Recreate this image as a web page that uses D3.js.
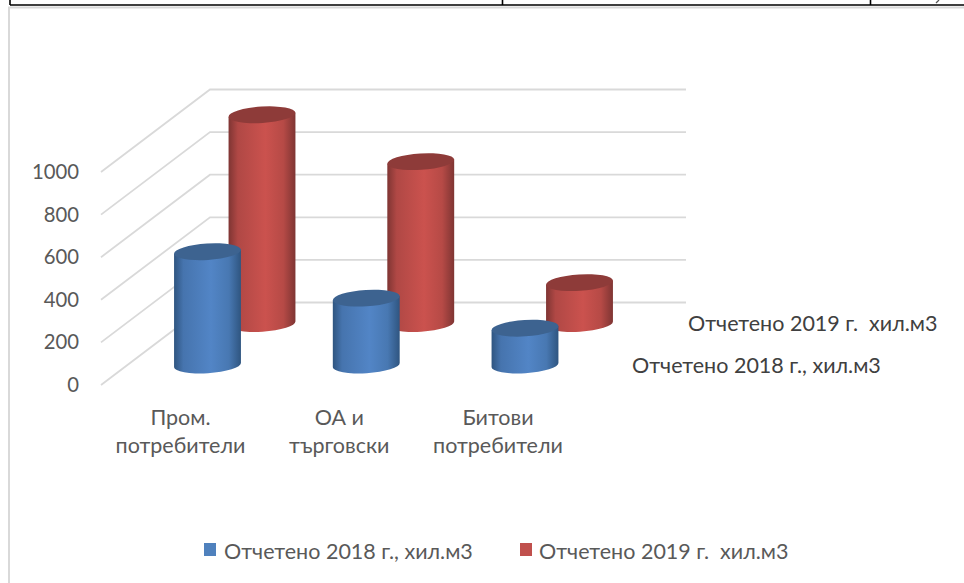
<!DOCTYPE html>
<html><head><meta charset="utf-8">
<script src="https://cdn.jsdelivr.net/npm/d3@7/dist/d3.min.js"></script>
<style>html,body{margin:0;padding:0;background:#fff;overflow:hidden}svg{display:block}text{font-family:Lato,"Open Sans",sans-serif}</style>
</head><body><svg id="c" width="964" height="583"></svg>
<script>
const categories = [["Пром.","потребители"],["ОА и","търговски"],["Битови","потребители"]];
const seriesNames = ["Отчетено 2018 г., хил.м3","Отчетено 2019 г.  хил.м3"];
const values2018 = [532, 314, 173];
const values2019 = [980, 760, 192];
const yTicks = [0,200,400,600,800,1000];
const seriesColors = [["#2f5580","#5285c6","#3b628f"],["#7f3533","#cb524e","#8d3a38"]];

const svg = d3.select("#c");
const y = d3.scaleLinear().domain([0,1000]).range([0,213]);
const xScale = d3.scalePoint().domain([0,1,2]).range([207.5,525]);
const floorFront = {x:101,y:385}, skew = {x:109,y:-82.5}, backRight = 686;
const seriesDepth = d3.scalePoint().domain([0,1]).range([0.242,0.745]);
const seriesX = d3.scalePoint().domain([0,1]).range([0,54.5]);
const FS = 21.5, FT = 20.3;

const defs = svg.append("defs");
seriesColors.forEach((c,i)=>{
  const g = defs.append("linearGradient").attr("id","side"+i);
  [[0,c[0]],[.14,d3.interpolateRgb(c[0],c[1])(.65)],[.55,c[1]],[.82,d3.interpolateRgb(c[0],c[1])(.72)],[1,c[0]]]
    .forEach(([o,col])=>g.append("stop").attr("offset",o).attr("stop-color",col));
});
svg.append("path").attr("d","M9 583V7.5H964").attr("fill","none").attr("stroke","#d9d9d9").attr("stroke-width",2);
svg.append("path").attr("d","M10 5H964M10 0V5M502.5 0V5M870.5 0V5").attr("fill","none").attr("stroke","#000").attr("stroke-width",1.6);
svg.append("path").attr("d","M939 0L936 3").attr("fill","none").attr("stroke","#555").attr("stroke-width",1.2);

const grid = svg.append("g").attr("fill","none").attr("stroke","#d9d9d9").attr("stroke-width",1.8);
yTicks.forEach(t=>{
  const fy = floorFront.y - y(t);
  grid.append("path").attr("d",`M${floorFront.x} ${fy}L${floorFront.x+skew.x} ${fy+skew.y}H${backRight}`);
});

svg.append("g").selectAll("text").data(yTicks).join("text")
  .attr("x",79).attr("y",t=>floorFront.y-y(t)+7)
  .attr("text-anchor","end").attr("font-size",FT).attr("fill","#595959").text(d=>d);

const rx=33.5, ry=8.2, rot=-3.6, rad=rot*Math.PI/180;
function cyl(sel,cx,by,h,i){
  const dx=rx*Math.cos(rad), dy=rx*Math.sin(rad), ty=by-h;
  const g=sel.append("g");
  g.append("path").attr("d",`M${cx-dx} ${ty-dy}L${cx-dx} ${by-dy}A${rx} ${ry} ${rot} 0 0 ${cx+dx} ${by+dy}L${cx+dx} ${ty+dy}Z`)
    .attr("fill",`url(#side${i})`);
  g.append("ellipse").attr("cx",cx).attr("cy",ty).attr("rx",rx).attr("ry",ry)
    .attr("transform",`rotate(${rot} ${cx} ${ty})`).attr("fill",i?"#8e3b39":"#3d6390");
}
const marks = svg.append("g");
[values2019,values2018].forEach((vals,k)=>{
  const s=1-k;
  vals.forEach((v,c)=>{
    const cx=xScale(c)+seriesX(s);
    const by=floorFront.y+skew.y*seriesDepth(s);
    cyl(marks,cx,by,y(v),s);
  });
});

const cat=svg.append("g").attr("font-size",FS).attr("fill","#595959").attr("text-anchor","middle");
categories.forEach((lines,c)=>{
  const cx=xScale(c)-27;
  lines.forEach((l,j)=>cat.append("text").attr("x",cx).attr("y",425+j*28).text(l));
});

svg.append("text").attr("x",688).attr("y",331).attr("font-size",FS).attr("fill","#404040").style("white-space","pre").text(seriesNames[1]);
svg.append("text").attr("x",632).attr("y",373).attr("font-size",FS).attr("fill","#404040").style("white-space","pre").text(seriesNames[0]);

const legendX=[204,520], textX=[224,539];
seriesNames.forEach((n,i)=>{
  svg.append("rect").attr("x",legendX[i]).attr("y",543).attr("width",12).attr("height",13).attr("fill",i?"#c0504d":"#4f81bd");
  svg.append("text").attr("x",textX[i]).attr("y",559).attr("font-size",FS).attr("fill","#595959").style("white-space","pre").text(n);
});
</script></body></html>
